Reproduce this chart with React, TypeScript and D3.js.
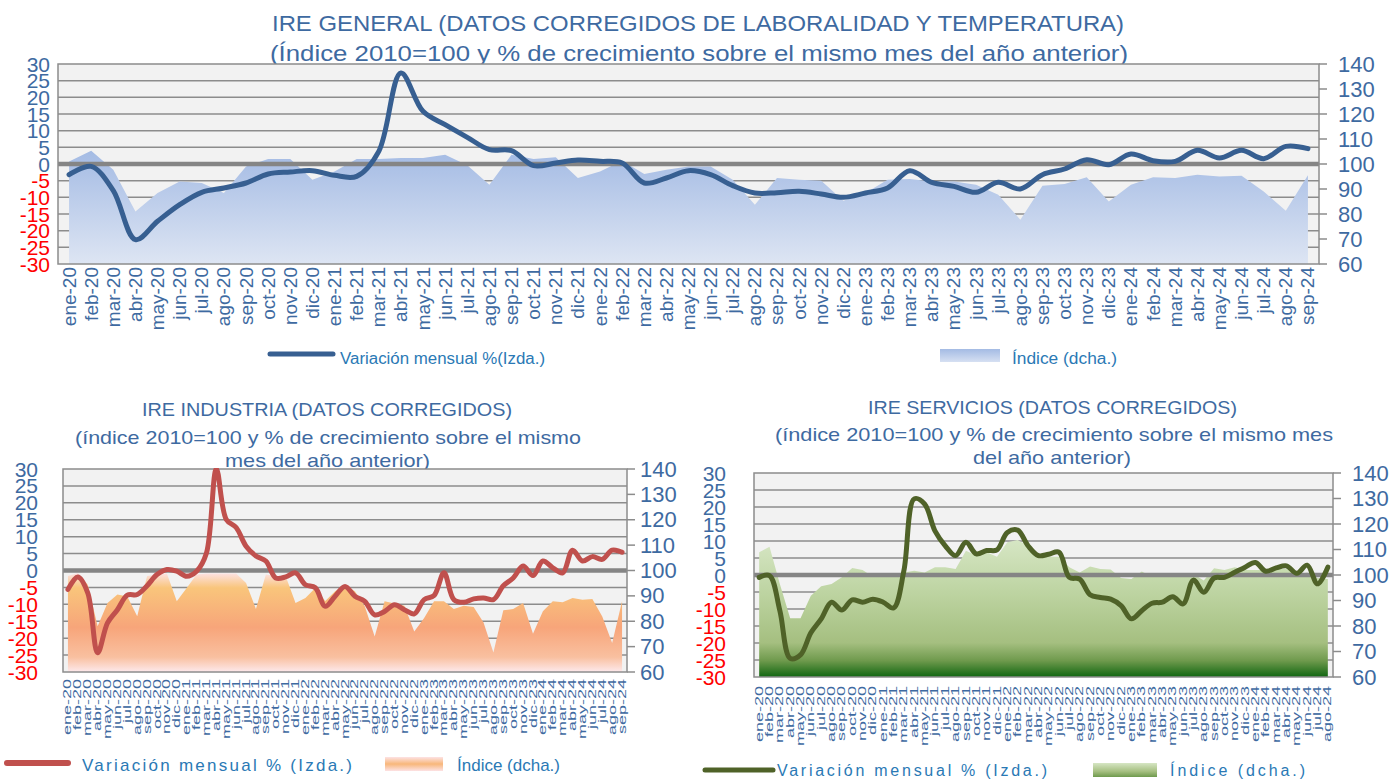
import React from "react";
import * as d3 from "d3";

// ---------- DATA ----------
const catsGeneral = [
  "ene-20","feb-20","mar-20","abr-20","may-20","jun-20","jul-20","ago-20","sep-20","oct-20","nov-20","dic-20",
  "ene-21","feb-21","mar-21","abr-21","may-21","jun-21","jul-21","ago-21","sep-21","oct-21","nov-21","dic-21",
  "ene-22","feb-22","mar-22","abr-22","may-22","jun-22","jul-22","ago-22","sep-22","oct-22","nov-22","dic-22",
  "ene-23","feb-23","mar-23","abr-23","may-23","jun-23","jul-23","ago-23","sep-23","oct-23","nov-23","dic-23",
  "ene-24","feb-24","mar-24","abr-24","may-24","jun-24","jul-24","ago-24","sep-24",
];
const catsServicios = [
  "ene-20","feb-20","mar-20","abr-20","may-20","jun-20","jul-20","ago-20","sep-20","oct-20","nov-20","dic-20",
  "ene-21","feb-21","mar-21","abr-21","may-21","jun-21","jul-21","ago-21","sep-21","oct-21","nov-21","dic-21",
  "ene-22","feb-22","mar-22","abr-22","may-22","jun-22","jul-22","ago-22","sep-22","oct-22","nov-22","dic-22",
  "ene-23","feb-23","mar-23","abr-23","may-23","jun-23","jul-23","ago-23","sep-23","oct-23","nov-23","dic-23",
  "ene-24","feb-24","mar-24","abr-24","may-24","jun-24","jul-24","ago-24",
];

const generalVariacion = [
  -3.2, -0.7, -8, -22.7, -17.2, -12.2, -8.5, -7.2, -5.7, -3, -2.4, -2,
  -3.4, -3.7, 3.8, 27.3, 15.8, 11.8, 8, 4.3, 4.0, -0.5, 0.3, 1.2,
  0.8, 0.3, -5.7, -4.2, -2, -3.2, -6.5, -8.7, -8.6, -8.2, -9, -10,
  -8.7, -7.2, -2, -5.5, -6.7, -8.5, -5.5, -7.5, -3.2, -1.5, 1.3, -0.2,
  3, 1, 0.8, 4.1, 1.8, 4.1, 1.6, 5.3, 4.6,
];
const generalIndice = [
  101, 105.3, 97.7, 81, 88.4, 93, 92.4, 88.4, 99, 102, 102, 93.7,
  97, 102, 102, 102.4, 102.4, 103.7, 99.5, 91.7, 103.7, 102, 102.7, 94.4,
  97, 101.3, 96, 97.7, 99, 99, 93.7, 83.7, 94.4, 93.7, 93.3, 85.3,
  88.4, 93.7, 94, 93, 93, 91.7, 87.7, 77.7, 91.3, 92, 94.7, 85,
  91.7, 94.7, 94.4, 95.7, 95, 95.3, 89, 81.3, 95.5,
];

const industriaVariacion = [
  -5.6, -1.9, -6.6, -24.3, -15.5, -11.6, -7.3, -7.1, -4.5, -1.2, 0.3, -0.2,
  -1.7, -0.2, 5.2, 30, 15.1, 12.7, 7.2, 4.3, 2.8, -2.2, -1.9, -0.7,
  -4.2, -5.1, -10.6, -7.6, -4.7, -7.6, -9.1, -13.1, -12.1, -10.1, -11.6, -12.8,
  -8.6, -7.4, -0.7, -8.6, -9.4, -8.4, -8.1, -8.6, -4.5, -2.2, 1.3, -1.5,
  2.8, 0.8, -0.7, 6, 2.8, 4.1, 3.3, 6, 5.4,
];
const industriaIndice = [
  97.8, 99, 94.5, 78, 87.2, 90.5, 89.8, 82, 97.8, 98.4, 98.8, 87.9,
  93.1, 98.4, 98.8, 98.8, 98.8, 98.8, 95.1, 84.8, 98.4, 97.8, 97.8, 87.2,
  89.2, 93.1, 88, 91.8, 94.1, 91.8, 85.9, 74, 87.9, 87, 86.1, 76,
  81.3, 87.9, 87.9, 84.8, 86.1, 85.6, 79.5, 67.7, 84.3, 84.8, 87.2, 75.1,
  83.9, 87.9, 87.5, 89.2, 88.5, 88.8, 81.9, 71.4, 87.9,
];

const serviciosVariacion = [
  -0.7, -0.2, -10.5, -24.5, -23.5, -17, -12.9, -8, -10.3, -7.3, -8, -7.1,
  -8, -9.7, 1.3, 22.4, 20.9, 13, 8.6, 5.7, 9.6, 6.2, 7.2, 7.4,
  12.5, 13.2, 8.6, 5.7, 6.1, 6.7, -0.7, -1.2, -5.8, -6.6, -7.1, -9,
  -12.9, -10.5, -8.3, -8, -6.4, -8.5, -1.5, -5.1, -0.9, -0.7, 0.8, 2.3,
  3.7, 1.1, 2.1, 2.7, 0.5, 2.9, -2.6, 2.3,
];
const serviciosIndice = [
  108.9, 111.1, 96.5, 83, 83, 91.9, 95.6, 96.5, 99.1, 102.7, 102, 99.3,
  99.3, 99.3, 101, 101.7, 101, 103, 103, 102.4, 109.5, 107.6, 108.9, 107.2,
  112.8, 113.7, 111.5, 107.6, 107.2, 107.2, 103, 101, 103.3, 102.4, 102.2, 98.8,
  98.4, 101.4, 99.3, 99.3, 99.3, 100.7, 100.4, 97.8, 102.6, 102, 103, 102,
  102, 102, 102.4, 102.4, 100.1, 101, 98.8, 98.4,
];

const leftTicks = [30, 25, 20, 15, 10, 5, 0, -5, -10, -15, -20, -25, -30];
const rightTicks = [140, 130, 120, 110, 100, 90, 80, 70, 60];

// ---------- STYLE ----------
const BLUE = "#3e6aa1";
const RED = "#ff0000";
const LEGEND = "#2a79b5";
const GRID = "#8c8c8c";
const FONT = "'Liberation Sans', Arial, sans-serif";

type PanelProps = {
  id: string;
  cats: string[];
  variacion: number[];
  indice: number[];
  x0: number; x1: number; y0: number; y1: number;
  lineColor: string;
  lineWidth: number;
  stops: [number, string][];
  leftLabelX: number;
  rightLabelX: number;
  xLabelTop: number;
  xLabelSize: number;
  xLabelScale: number;
};

function Panel(p: PanelProps) {
  const x = d3.scaleBand<string>().domain(p.cats).range([p.x0, p.x1]);
  const yL = d3.scaleLinear().domain([-30, 30]).range([p.y1, p.y0]);
  const yR = d3.scaleLinear().domain([60, 140]).range([p.y1, p.y0]);
  const cx = (c: string) => (x(c) as number) + x.bandwidth() / 2;
  const line = d3
    .line<number>()
    .x((_, i) => cx(p.cats[i]))
    .y((d) => yL(d))
    .curve(d3.curveCatmullRom.alpha(0.5));
  const area = d3
    .area<number>()
    .x((_, i) => cx(p.cats[i]))
    .y0(p.y1)
    .y1((d) => yR(d));
  const gridVals = leftTicks.filter((v) => v !== 0 && v !== 30 && v !== -30);
  return (
    <g>
      <defs>
        <linearGradient id={p.id} x1="0" y1="0" x2="0" y2="1">
          {p.stops.map(([o, c], i) => (
            <stop key={i} offset={o} stopColor={c} />
          ))}
        </linearGradient>
        <clipPath id={p.id + "-clip"}>
          <rect x={p.x0} y={p.y0 - 1} width={p.x1 - p.x0} height={p.y1 - p.y0 + 2} />
        </clipPath>
      </defs>
      <rect x={p.x0} y={p.y0} width={p.x1 - p.x0} height={p.y1 - p.y0} fill="#f2f2f2" />
      {gridVals.map((v) => (
        <line key={v} x1={p.x0} x2={p.x1} y1={yL(v)} y2={yL(v)} stroke={GRID} strokeWidth={1.5} />
      ))}
      <path d={area(p.indice) || ""} fill={`url(#${p.id})`} />
      <line x1={p.x0} x2={p.x1} y1={yL(0)} y2={yL(0)} stroke="#858585" strokeWidth={4.5} />
      <rect x={p.x0} y={p.y0} width={p.x1 - p.x0} height={p.y1 - p.y0} fill="none" stroke={GRID} strokeWidth={1.5} />
      {rightTicks.map((v) => (
        <line key={v} x1={p.x1} x2={p.x1 + 8} y1={yR(v)} y2={yR(v)} stroke={GRID} strokeWidth={1.5} />
      ))}
      <path
        d={line(p.variacion) || ""}
        fill="none"
        stroke={p.lineColor}
        strokeWidth={p.lineWidth}
        strokeLinejoin="round"
        strokeLinecap="round"
        clipPath={`url(#${p.id}-clip)`}
      />
      {leftTicks.map((v) => (
        <text
          key={v}
          x={p.leftLabelX}
          y={yL(v)}
          textAnchor="end"
          dominantBaseline="central"
          fontSize={21}
          fontFamily={FONT}
          fill={v >= 0 ? BLUE : RED}
        >
          {v}
        </text>
      ))}
      {rightTicks.map((v) => (
        <text
          key={v}
          x={p.rightLabelX}
          y={yR(v)}
          textAnchor="start"
          dominantBaseline="central"
          fontSize={22}
          fontFamily={FONT}
          fill={BLUE}
        >
          {v}
        </text>
      ))}
      {p.cats.map((c) => (
        <text
          key={c}
          transform={`translate(${cx(c)},${p.xLabelTop}) scale(${p.xLabelScale},1) rotate(-90)`}
          textAnchor="end"
          dominantBaseline="central"
          fontSize={p.xLabelSize}
          fontFamily={FONT}
          fill={BLUE}
        >
          {c}
        </text>
      ))}
    </g>
  );
}

function T(props: { x: number; y: number; w: number; size: number; fill?: string; adj?: string; children: string }) {
  return (
    <text
      x={props.x}
      y={props.y}
      fontSize={props.size}
      fontFamily={FONT}
      fill={props.fill || BLUE}
      textLength={props.w}
      lengthAdjust={props.adj || "spacingAndGlyphs"}
    >
      {props.children}
    </text>
  );
}

export default function App() {
  return (
    <svg
      width={1395}
      height={780}
      viewBox="0 0 1395 780"
      style={{ position: "absolute", left: 0, top: 0, background: "#ffffff" }}
    >
      <defs>
        <linearGradient id="legBlue" x1="0" y1="0" x2="0" y2="1">
          <stop offset="0" stopColor="#a4bbe4" />
          <stop offset="1" stopColor="#d6e0f2" />
        </linearGradient>
        <linearGradient id="legOrange" x1="0" y1="0" x2="0" y2="1">
          <stop offset="0" stopColor="#fde2e4" />
          <stop offset="0.5" stopColor="#f8b77a" />
          <stop offset="1" stopColor="#fde2e4" />
        </linearGradient>
        <linearGradient id="legGreen" x1="0" y1="0" x2="0" y2="1">
          <stop offset="0" stopColor="#d6e6c4" />
          <stop offset="0.6" stopColor="#a5bf80" />
          <stop offset="1" stopColor="#6f9a4d" />
        </linearGradient>
      </defs>

      {/* ---------- TOP: IRE GENERAL ---------- */}
      <T x={272} y={31} w={852} size={22}>IRE GENERAL (DATOS CORREGIDOS DE LABORALIDAD Y TEMPERATURA)</T>
      <T x={270} y={61} w={858} size={22}>(Índice 2010=100 y % de crecimiento sobre el mismo mes del año anterior)</T>
      <Panel
        id="gGeneral"
        cats={catsGeneral}
        variacion={generalVariacion}
        indice={generalIndice}
        x0={58}
        x1={1319}
        y0={64}
        y1={264}
        lineColor="#375f91"
        lineWidth={5}
        stops={[[0, "#a4bbe4"], [1, "#dde5f3"]]}
        leftLabelX={50}
        rightLabelX={1338}
        xLabelTop={267}
        xLabelSize={19}
        xLabelScale={1}
      />
      <line x1={270} x2={333} y1={354} y2={354} stroke="#375f91" strokeWidth={5} strokeLinecap="round" />
      <T x={340} y={364} w={205} size={16} fill={LEGEND}>Variación mensual %(Izda.)</T>
      <rect x={940} y={349} width={60} height={13} fill="url(#legBlue)" />
      <T x={1012} y={364} w={105} size={16} fill={LEGEND}>Índice (dcha.)</T>

      {/* ---------- BOTTOM LEFT: INDUSTRIA ---------- */}
      <T x={142} y={416} w={370} size={19}>IRE INDUSTRIA (DATOS CORREGIDOS)</T>
      <T x={75} y={444} w={506} size={19}>(índice 2010=100 y % de crecimiento sobre el mismo</T>
      <T x={225} y={467} w={205} size={19}>mes del año anterior)</T>
      <Panel
        id="gIndustria"
        cats={catsGeneral}
        variacion={industriaVariacion}
        indice={industriaIndice}
        x0={63}
        x1={627}
        y0={469}
        y1={672}
        lineColor="#c0504d"
        lineWidth={5}
        stops={[[0, "#fde2e4"], [0.15, "#f9c57b"], [0.55, "#f7a57a"], [0.85, "#f9c0a0"], [1, "#fde9ec"]]}
        leftLabelX={38}
        rightLabelX={640}
        xLabelTop={679}
        xLabelSize={18}
        xLabelScale={0.58}
      />
      <line x1={7} x2={68} y1={763} y2={763} stroke="#c0504d" strokeWidth={6} strokeLinecap="round" />
      <T x={82} y={771} w={270} size={17} fill={LEGEND} adj="spacing">Variación mensual % (Izda.)</T>
      <rect x={385} y={757} width={58} height={14} fill="url(#legOrange)" />
      <T x={457} y={771} w={103} size={17} fill={LEGEND} adj="spacing">Índice (dcha.)</T>

      {/* ---------- BOTTOM RIGHT: SERVICIOS ---------- */}
      <T x={868} y={414} w={369} size={19}>IRE SERVICIOS (DATOS CORREGIDOS)</T>
      <T x={775} y={441} w={558} size={19}>(índice 2010=100 y  % de crecimiento sobre el mismo mes</T>
      <T x={973} y={464} w={158} size={19}>del año anterior)</T>
      <Panel
        id="gServicios"
        cats={catsServicios}
        variacion={serviciosVariacion}
        indice={serviciosIndice}
        x0={754}
        x1={1333}
        y0={473}
        y1={677}
        lineColor="#4f6228"
        lineWidth={5}
        stops={[[0, "#d6e6c4"], [0.4, "#bcd3a0"], [0.75, "#a5bf80"], [0.88, "#6f9a4d"], [1, "#116611"]]}
        leftLabelX={726}
        rightLabelX={1352}
        xLabelTop={686}
        xLabelSize={18}
        xLabelScale={0.58}
      />
      <line x1={705} x2={773} y1={770} y2={770} stroke="#4f6228" strokeWidth={5} strokeLinecap="round" />
      <T x={777} y={776} w={270} size={16} fill={LEGEND} adj="spacing">Variación mensual % (Izda.)</T>
      <rect x={1093} y={763} width={64} height={14} fill="url(#legGreen)" />
      <T x={1170} y={776} w={135} size={16} fill={LEGEND} adj="spacing">Índice (dcha.)</T>
    </svg>
  );
}
